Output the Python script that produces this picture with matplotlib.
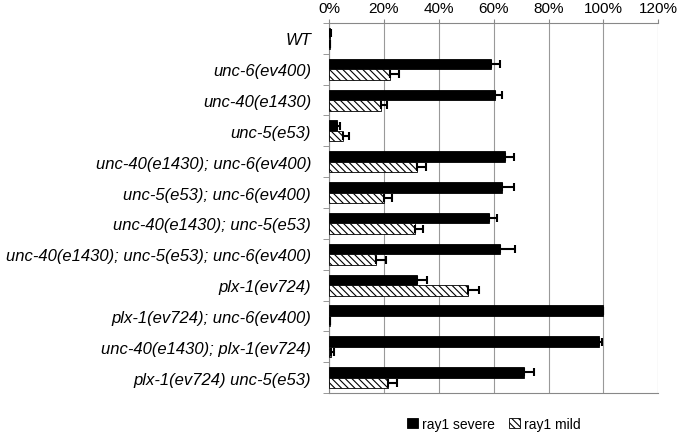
import matplotlib.pyplot as plt
import numpy as np

plt.rcParams['font.family'] = ['Liberation Sans', 'DejaVu Sans']
plt.rcParams['hatch.linewidth'] = 0.8

strains = ['WT', 'unc-6(ev400)', 'unc-40(e1430)', 'unc-5(e53)',
           'unc-40(e1430); unc-6(ev400)', 'unc-5(e53); unc-6(ev400)',
           'unc-40(e1430); unc-5(e53)', 'unc-40(e1430); unc-5(e53); unc-6(ev400)',
           'plx-1(ev724)', 'plx-1(ev724); unc-6(ev400)',
           'unc-40(e1430); plx-1(ev724)', 'plx-1(ev724) unc-5(e53)']

severe = [0.4, 59.1, 60.3, 2.9, 64.1, 62.9, 58.2, 62.4, 32.1, 100.0, 98.4, 70.9]
severe_err = [0.3, 3.3, 2.7, 1.0, 3.2, 4.4, 3.0, 5.4, 3.5, 0.0, 1.2, 3.9]
mild = [0.3, 22.3, 19.0, 5.1, 32.0, 20.0, 31.2, 17.0, 50.5, 0.3, 0.8, 21.6]
mild_err = [0.2, 3.2, 2.2, 2.2, 3.3, 3.1, 3.2, 3.6, 4.0, 0.0, 0.8, 3.3]

fig = plt.figure(figsize=(6.8, 4.35), dpi=100)
ax = fig.add_axes([0.484, 0.094, 0.484, 0.851])

y = np.arange(len(strains))
h = 0.34
ekw = dict(elinewidth=1.5, capthick=1.5)
ax.barh(y - h / 2, severe, height=h, color='black', edgecolor='black', linewidth=0.6,
        xerr=[np.zeros(len(severe)), severe_err], capsize=3, error_kw=ekw,
        label='ray1 severe', zorder=3)
ax.barh(y + h / 2, mild, height=h, color='white', edgecolor='black', linewidth=0.6,
        hatch='\\\\\\\\\\', xerr=[np.zeros(len(mild)), mild_err], capsize=3,
        error_kw=ekw, label='ray1 mild', zorder=3)

ax.set_xlim(0, 120)
ax.set_ylim(len(strains) - 0.5, -0.5)
ax.set_xticks(np.arange(0, 121, 20))
ax.set_xticklabels([f'{v}%' for v in range(0, 121, 20)])
ax.xaxis.tick_top()
ax.set_yticks(y)
ax.set_yticklabels(strains, style='italic', fontsize=12)
ax.set_yticks(np.arange(-0.5, len(strains), 1), minor=True)
ax.tick_params(axis='y', which='major', length=0, pad=13)
ax.tick_params(axis='y', which='minor', length=4, color='#888888')
ax.tick_params(axis='x', length=3, color='#888888', labelsize=11, pad=3)
ax.grid(axis='x', color='#999999', linewidth=0.8, zorder=0)
for side in ['left', 'top', 'bottom']:
    ax.spines[side].set_color('#888888')
ax.spines['right'].set_visible(False)

ax.legend(loc='upper center', bbox_to_anchor=(0.5, -0.03), ncol=2, frameon=False,
          fontsize=10, handlelength=0.8, handleheight=0.8, handletextpad=0.3,
          columnspacing=1.0)

fig.savefig('out.png', dpi=100)
